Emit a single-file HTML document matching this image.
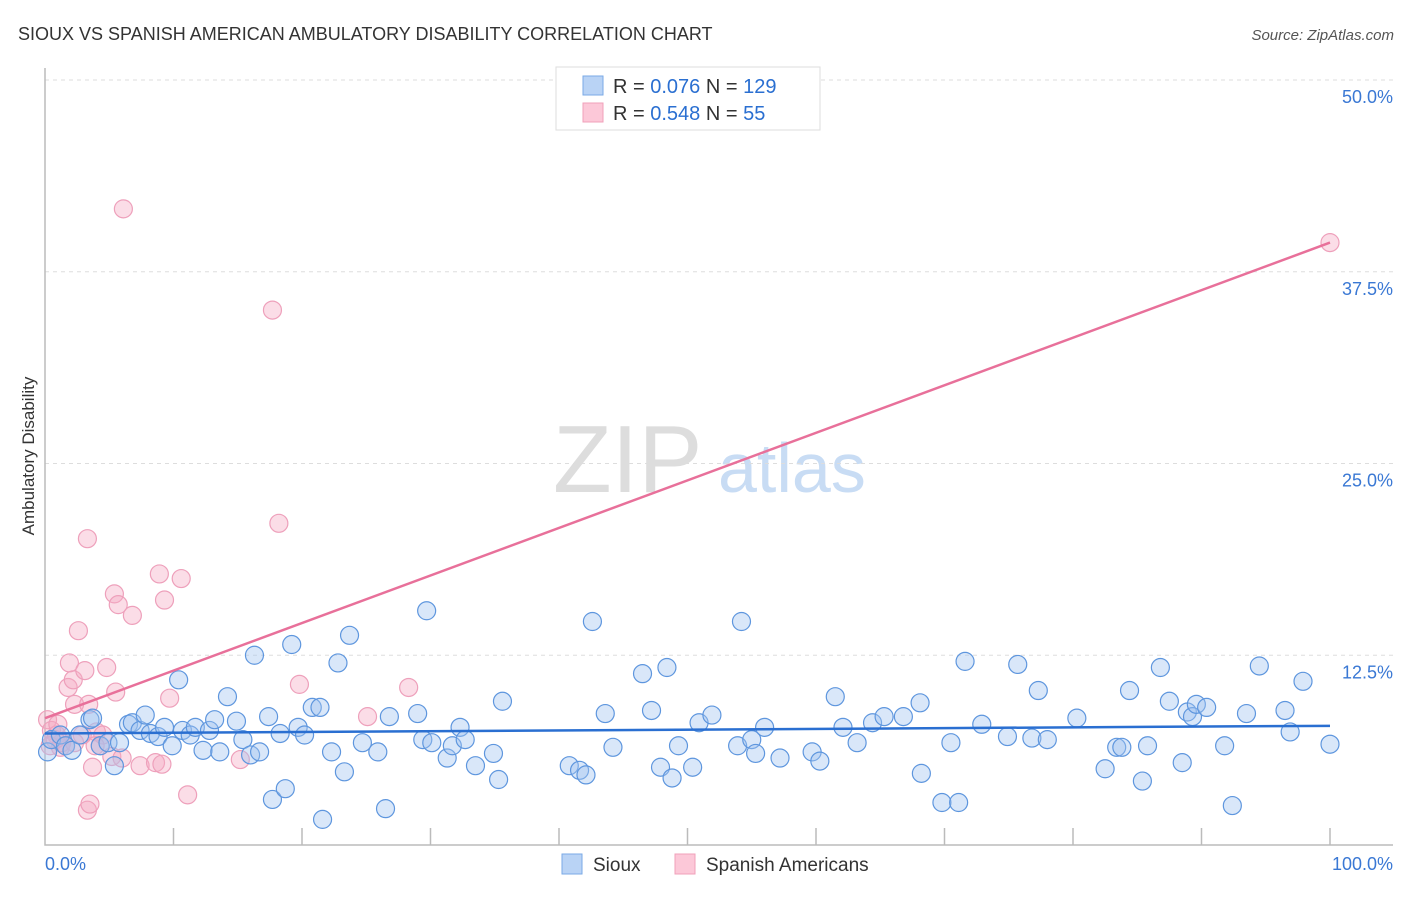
<!DOCTYPE html>
<html><head><meta charset="utf-8"><style>
body{margin:0;background:#fff;font-family:"Liberation Sans",sans-serif}
svg text{font-family:"Liberation Sans",sans-serif}
</style></head><body>
<svg id="c" width="1406" height="892">
<text x="18" y="40" font-size="18" fill="#333">SIOUX VS SPANISH AMERICAN AMBULATORY DISABILITY CORRELATION CHART</text>
<text x="1394" y="40" font-size="15" fill="#555" text-anchor="end" font-style="italic">Source: ZipAtlas.com</text>
<text transform="translate(34,456) rotate(-90)" font-size="17" fill="#333" text-anchor="middle">Ambulatory Disability</text>
<g><text x="553" y="492" font-size="96" font-family="Liberation Serif" fill="#ddd">ZIP</text><text x="718" y="492" font-size="70" fill="#c8dcf4">atlas</text></g>
<g id="grid"></g><g id="axes"></g><g id="pts"></g><g id="lines"></g>
<g>
<rect x="556" y="67" width="264" height="63" fill="#fff" stroke="#ddd"/>
<rect x="583" y="76" width="20" height="19" fill="#b9d3f5" stroke="#7aaae6"/>
<rect x="583" y="103" width="20" height="19" fill="#fcc8d8" stroke="#f0a0ba"/>
<text x="613" y="93" font-size="20" fill="#333">R = <tspan fill="#2a6fd1">0.076</tspan>   N = <tspan fill="#2a6fd1">129</tspan></text>
<text x="613" y="120" font-size="20" fill="#333">R = <tspan fill="#2a6fd1">0.548</tspan>   N =  <tspan fill="#2a6fd1"> 55</tspan></text>
</g>
<g>
<rect x="562" y="854" width="20" height="20" fill="#b9d3f5" stroke="#7aaae6"/><text x="593" y="871" font-size="19" fill="#333">Sioux</text>
<rect x="675" y="854" width="20" height="20" fill="#fcc8d8" stroke="#f0a0ba"/><text x="706" y="871" font-size="19" fill="#333">Spanish Americans</text>
</g>
</svg>
<script>
const siouxX=[0.2,0.5,1.2,1.6,2.1,2.7,3.5,3.7,4.3,4.9,5.4,5.8,6.5,6.8,7.4,7.8,8.2,8.8,9.3,9.9,10.4,10.7,11.3,11.7,12.3,12.8,13.2,13.6,14.2,14.9,15.4,16.0,16.3,16.7,17.4,17.7,18.3,18.7,19.2,19.7,20.2,20.8,21.4,21.6,22.3,22.8,23.3,23.7,24.7,25.9,26.5,26.8,29.0,29.4,29.7,30.1,31.3,31.7,32.3,32.7,33.5,34.9,35.3,35.6,40.8,41.6,42.1,42.6,43.6,44.2,46.5,47.2,47.9,48.4,48.8,49.3,50.4,50.9,51.9,53.9,54.2,55.0,55.3,56.0,57.2,59.7,60.3,61.5,62.1,63.2,64.4,65.3,66.8,68.1,68.2,69.8,70.5,71.1,71.6,72.9,74.9,75.7,76.8,77.3,78.0,80.3,82.5,83.4,83.8,84.4,85.4,85.8,86.8,87.5,88.5,88.9,89.3,89.6,90.4,91.8,92.4,93.5,94.5,96.5,96.9,97.9,100];
const siouxY=[6.2,7.0,7.3,6.6,6.3,7.3,8.3,8.4,6.6,6.8,5.3,6.8,8.0,8.1,7.6,8.6,7.4,7.2,7.8,6.6,10.9,7.6,7.3,7.8,6.3,7.6,8.3,6.2,9.8,8.2,7.0,6.0,12.5,6.2,8.5,3.1,7.4,3.8,13.2,7.8,7.3,9.1,9.1,1.8,6.2,12.0,4.9,13.8,6.8,6.2,2.5,8.5,8.7,7.0,15.4,6.8,5.8,6.6,7.8,7.0,5.3,6.1,4.4,9.5,5.3,5.0,4.7,14.7,8.7,6.5,11.3,8.9,5.2,11.7,4.5,6.6,5.2,8.1,8.6,6.6,14.7,7.0,6.1,7.8,5.8,6.2,5.6,9.8,7.8,6.8,8.1,8.5,8.5,9.4,4.8,2.9,6.8,2.9,12.1,8.0,7.2,11.9,7.1,10.2,7.0,8.4,5.1,6.5,6.5,10.2,4.3,6.6,11.7,9.5,5.5,8.8,8.5,9.3,9.1,6.6,2.7,8.7,11.8,8.9,7.5,10.8,6.7];
const spanX=[0.2,0.5,0.9,1.2,1.6,1.9,1.8,2.2,2.3,2.6,2.9,3.1,3.3,3.3,3.4,3.5,3.7,4.0,4.3,4.8,5.2,5.4,5.5,5.7,6.0,6.1,6.8,7.4,8.6,8.9,9.1,9.3,9.7,10.6,11.1,15.2,17.7,18.2,19.8,25.1,28.3,100,0.8,1.3,1.0,0.4,2.3,4.5,3.9];
const spanY=[8.3,7.6,7.3,6.5,6.6,12.0,10.4,10.9,9.3,14.1,7.3,11.5,20.1,2.4,9.3,2.8,5.2,7.5,6.6,11.7,5.9,16.5,10.1,15.8,5.8,41.6,15.1,5.3,5.5,17.8,5.4,16.1,9.7,17.5,3.4,5.7,35.0,21.1,10.6,8.5,10.4,39.4,7.0,6.8,8.0,6.6,6.8,7.3,6.6];
const siouxTrend=[7.4,7.9];
const spanTrend=[8.4,39.4];
const yTicks=[12.5,25,37.5,50];
const yTickLabels=["12.5%","25.0%","37.5%","50.0%"];
const xTicks=[0,10,20,30,40,50,60,70,80,90,100];
const NS="http://www.w3.org/2000/svg";
const X=v=>45+v*12.85, Y=v=>847-v*15.34;
function mk(p,t,a){const e=document.createElementNS(NS,t);for(const k in a)e.setAttribute(k,a[k]);document.getElementById(p).appendChild(e);return e;}
yTicks.forEach((t,i)=>{
 const g=mk('grid','line',{x1:45,x2:1393,y1:Y(t),y2:Y(t),stroke:'#ddd','stroke-dasharray':'4,4'});
 
 
 const l=mk('grid','text',{x:1393,y:Y(t)+23,'font-size':18,fill:'#3a78d4','text-anchor':'end'});l.textContent=yTickLabels[i];
 
 
});
const ax=mk('axes','path',{d:'M45,68V845H1393',stroke:'#bbb',fill:'none','stroke-width':1.5});


xTicks.forEach(t=>{if(t>0){const k=mk('axes','line',{x1:X(t),x2:X(t),y1:828,y2:845,stroke:'#bbb','stroke-width':1.5});
 
 }});
const x0=mk('axes','text',{x:45,y:870,'font-size':18,fill:'#3a78d4'});x0.textContent='0.0%';


const x1=mk('axes','text',{x:1393,y:870,'font-size':18,fill:'#3a78d4','text-anchor':'end'});x1.textContent='100.0%';


spanX.forEach((v,i)=>{const c=mk('pts','circle',{cx:X(v),cy:Y(spanY[i]),r:9,fill:'rgba(245,170,195,0.4)',stroke:'#eea0bb','stroke-width':1.2});
 
 });
siouxX.forEach((v,i)=>{const c=mk('pts','circle',{cx:X(v),cy:Y(siouxY[i]),r:9,fill:'rgba(160,196,240,0.4)',stroke:'#5e96de','stroke-width':1.2});
 
 });
const sl=mk('lines','line',{x1:X(0),x2:X(100),y1:Y(siouxTrend[0]),y2:Y(siouxTrend[1]),stroke:'#2a6fd1','stroke-width':2.5});


const pl=mk('lines','line',{x1:X(0),x2:X(100),y1:Y(spanTrend[0]),y2:Y(spanTrend[1]),stroke:'#e8709a','stroke-width':2.5});


</script>
</body></html>
